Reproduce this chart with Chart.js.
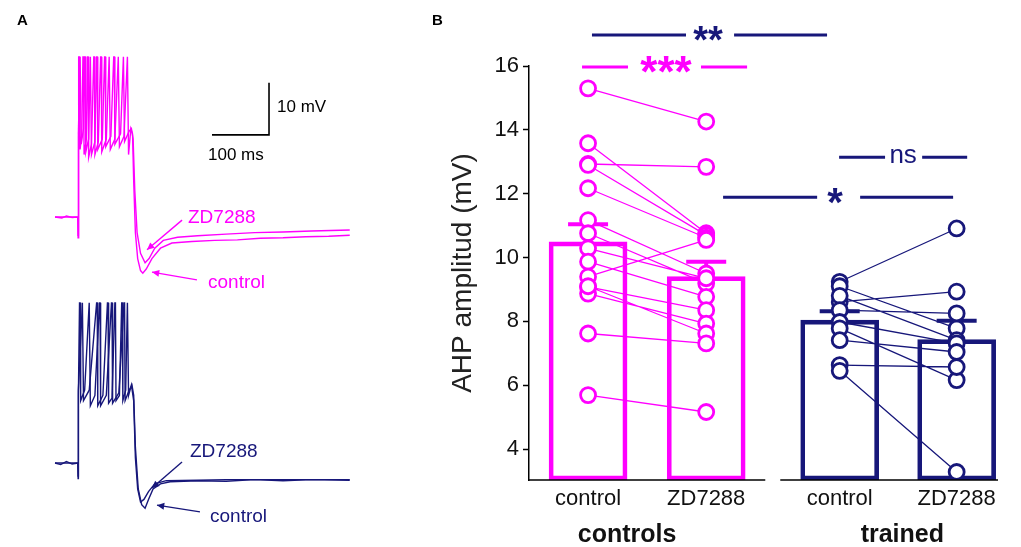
<!DOCTYPE html>
<html>
<head>
<meta charset="utf-8">
<script src="https://cdn.jsdelivr.net/npm/chart.js@4.4.1/dist/chart.umd.min.js"></script>
<style>
  html, body { margin:0; padding:0; background:#fff; }
  #wrap { position:relative; width:1021px; height:547px; overflow:hidden; background:#fff; }
  canvas { position:absolute; }
  .panel { position:absolute; font-family:'Liberation Sans', Arial, sans-serif; font-weight:bold; font-size:15px; color:#000; }
</style>
</head>
<body>
<div id="wrap">
  <canvas id="cA1" width="430" height="290" style="left:0;top:0;"></canvas>
  <canvas id="cA2" width="430" height="257" style="left:0;top:290px;"></canvas>
  <canvas id="cB" width="621" height="547" style="left:400px;top:0;"></canvas>
  <div class="panel" style="left:17px;top:11px;">A</div>
  <div class="panel" style="left:432px;top:11px;">B</div>
</div>
<script>
// ---------------- DATA ----------------
const FONT = "'Liberation Sans', Arial, sans-serif";
const MAGENTA = '#ff00ff';
const NAVY = '#17177a';

// Panel B
const categories = ['control', 'ZD7288', 'control', 'ZD7288'];
const groups = ['controls', 'trained'];
const xPos = [0.5, 1.5, 2.63, 3.62];
const barMeans = [10.49, 9.40, 8.04, 7.43];
const barSEM = [0.55, 0.47, 0.28, 0.59];
const yTicks = [4, 6, 8, 10, 12, 14, 16];
const Y_MIN = 3.03, Y_MAX = 16, X_MAX = 3.97;

const controlsCtrl = [15.30, 13.58, 12.93, 12.90, 12.17, 11.17, 10.76, 10.29, 9.87, 9.40, 9.08, 8.87, 9.10, 7.62, 5.69];
const controlsZD   = [14.26, 10.76, 12.84, 10.70, 10.62, 9.50, 9.19, 9.35, 8.77, 10.55, 8.35, 7.93, 7.62, 7.31, 5.16];
const trainedCtrl  = [9.24, 9.10, 8.61, 8.80, 8.35, 7.98, 7.78, 7.41, 6.63, 6.45];
const trainedZD    = [10.91, 7.78, 8.93, 7.41, 8.25, 7.31, 6.16, 7.04, 6.57, 3.28];

// significance brackets: [label, colour, leftStart, leftEnd, textX, rightStart, rightEnd, yValue, font]
const sigLabels = [
  ['**',  NAVY,    0.533, 1.329, 1.516, 1.736, 2.523, 16.97, 'bold 38px'],
  ['***', MAGENTA, 0.449, 0.838, 1.160, 1.456, 1.846, 15.97, 'bold 44px'],
  ['ns',  NAVY,    2.625, 3.014, 3.167, 3.328, 3.709, 13.14, '26px'],
  ['*',   NAVY,    1.643, 2.439, 2.591, 2.803, 3.590, 11.89, 'bold 40px']
];
const axisSegments = [[0, 2.0], [2.127, X_MAX]];
const groupLabelX = [0.83, 3.16];

// Panel A traces: [time ms, membrane potential mV]
const magentaCtrlTrace = [[0,-65],[12,-65.2],[20,-64.8],[30,-65.1],[40,-65],[40.5,-69],[41,-50],[42,-34.2],[43,-34.2],[44,-52],[47,-49],[49,-34.2],[50,-34.2],[51,-53],[55,-50],[57,-34.2],[58,-34.2],[59,-53.5],[64,-51],[68,-34.2],[69,-34.2],[70,-53],[76,-50.5],[80,-34.2],[81,-34.2],[82,-52.5],[90,-50],[95,-34.2],[96,-34.2],[97,-52],[105,-50],[111,-34.2],[112,-34.2],[113,-51.5],[121,-49.5],[127,-34.2],[128,-34.2],[129,-53],[133,-48],[136,-49],[138,-58],[141,-68],[145,-73],[150,-75.3],[154,-75.8],[160,-75],[170,-73],[185,-71],[205,-70],[240,-69.7],[280,-69.5],[320,-69.4],[360,-69.1],[400,-69],[440,-68.8],[480,-68.7],[517,-68.5]];
const magentaZDTrace = [[0,-65],[40,-65],[40.5,-68.5],[41,-49],[44,-34.2],[45,-34.2],[46,-51],[50,-48],[52,-34.2],[53,-34.2],[54,-52.5],[59,-50],[62,-34.2],[63,-34.2],[64,-53],[70,-50.5],[73,-34.2],[74,-34.2],[75,-52],[83,-50],[87,-34.2],[88,-34.2],[89,-51.5],[98,-49.5],[103,-34.2],[104,-34.2],[105,-51],[115,-49],[120,-34.2],[121,-34.2],[122,-50.5],[130,-48.5],[134,-48],[137,-50],[140,-60],[144,-68],[150,-72],[158,-73.8],[165,-73],[175,-71],[190,-69.5],[215,-68.9],[250,-68.6],[300,-68.3],[350,-68],[400,-67.9],[450,-67.7],[517,-67.5]];
const navyCtrlTrace = [[0,-65],[10,-65.3],[20,-64.7],[30,-65.2],[40,-65],[40.5,-68],[41,-52],[43,-34.2],[44,-34.2],[45,-53],[52,-51],[60,-34.2],[61,-34.2],[62,-54],[70,-52],[78,-34.2],[79,-34.2],[80,-54],[90,-52],[99,-34.2],[100,-34.2],[101,-53.5],[112,-51.5],[121,-34.2],[122,-34.2],[123,-53],[130,-51],[135,-50],[138,-52],[141,-62],[146,-70],[152,-73],[158,-73.7],[164,-72],[172,-70],[185,-69],[202,-68.6],[250,-68.4],[300,-68.5],[350,-68.2],[400,-68.4],[450,-68.2],[517,-68.3]];
const navyZDTrace = [[0,-65],[40,-65],[40.5,-67.5],[41,-51],[48,-34.2],[49,-34.2],[50,-53],[60,-51],[73,-34.2],[74,-34.2],[75,-54],[84,-52],[92,-34.2],[93,-34.2],[94,-53.5],[100,-52.5],[105,-34.2],[106,-34.2],[107,-53],[113,-52],[117,-34.2],[118,-34.2],[119,-53],[124,-51],[127,-34.2],[128,-34.2],[129,-52],[134,-50],[138,-53],[141,-64],[145,-70],[150,-72.5],[156,-72],[164,-70.5],[175,-69],[195,-68.4],[250,-68.3],[300,-68.2],[400,-68.2],[517,-68.2]];

// Panel A annotations (data units: ms, mV)
const topLabels = [['ZD7288', 233.3, -65.2], ['control', 268.4, -77.7]];
const topArrows = [[222.8, -65.6, 161.4, -71.3], [249.0, -77.1, 170.1, -75.6]];
const botLabels = [['ZD7288', 236.8, -62.9], ['control', 271.9, -75.4]];
const botArrows = [[222.8, -64.8, 170.1, -69.8], [254.3, -74.4, 178.9, -73.1]];
const scaleBarT = [275.4, 375.4];   // 100 ms
const scaleBarV = [-49.2, -39.2];   // 10 mV
const scaleLabels = [['10 mV', 389.4, -44.0], ['100 ms', 268.4, -53.1]];

// ---------------- PANEL A ----------------
function toXY(arr) { return arr.map(p => ({x: p[0], y: p[1]})); }

function arrow(ctx, x1, y1, x2, y2, color) {
  ctx.strokeStyle = color; ctx.fillStyle = color; ctx.lineWidth = 1.4;
  ctx.beginPath(); ctx.moveTo(x1, y1); ctx.lineTo(x2, y2); ctx.stroke();
  const a = Math.atan2(y2 - y1, x2 - x1), L = 8, W = 0.45;
  ctx.beginPath(); ctx.moveTo(x2, y2);
  ctx.lineTo(x2 - L * Math.cos(a - W), y2 - L * Math.sin(a - W));
  ctx.lineTo(x2 - L * Math.cos(a + W), y2 - L * Math.sin(a + W));
  ctx.closePath(); ctx.fill();
}

function traceChart(id, traces, colors, yMin, yMax, labels, arrows, color, withScale) {
  const annot = {
    id: 'annot' + id,
    afterDraw(chart) {
      const {ctx, scales: {x, y}} = chart;
      ctx.save();
      ctx.font = '19px ' + FONT; ctx.textBaseline = 'middle'; ctx.textAlign = 'left';
      labels.forEach(l => { ctx.fillStyle = color; ctx.fillText(l[0], x.getPixelForValue(l[1]), y.getPixelForValue(l[2])); });
      arrows.forEach(a => arrow(ctx, x.getPixelForValue(a[0]), y.getPixelForValue(a[1]), x.getPixelForValue(a[2]), y.getPixelForValue(a[3]), color));
      if (withScale) {
        ctx.strokeStyle = '#000'; ctx.lineWidth = 1.6;
        const xa = x.getPixelForValue(scaleBarT[0]), xb = x.getPixelForValue(scaleBarT[1]);
        const ya = y.getPixelForValue(scaleBarV[0]), yb = y.getPixelForValue(scaleBarV[1]);
        ctx.beginPath(); ctx.moveTo(xa, ya); ctx.lineTo(xb, ya); ctx.lineTo(xb, yb); ctx.stroke();
        ctx.fillStyle = '#000'; ctx.font = '17px ' + FONT;
        scaleLabels.forEach(l => ctx.fillText(l[0], x.getPixelForValue(l[1]), y.getPixelForValue(l[2])));
      }
      ctx.restore();
    }
  };
  return new Chart(document.getElementById(id), {
    type: 'line',
    data: { datasets: traces.map((t, i) => ({ data: toXY(t), borderColor: colors[i], borderWidth: 1.4, pointRadius: 0, tension: 0, fill: false })) },
    options: {
      responsive: false, animation: false, devicePixelRatio: 1,
      layout: { padding: 0 },
      scales: {
        x: { type: 'linear', display: false, min: -96.5, max: 657.8 },
        y: { type: 'linear', display: false, min: yMin, max: yMax }
      },
      plugins: { legend: { display: false }, tooltip: { enabled: false } }
    },
    plugins: [annot]
  });
}

traceChart('cA1', [magentaZDTrace, magentaCtrlTrace], [MAGENTA, MAGENTA], -79.04, -23.27, topLabels, topArrows, MAGENTA, true);
traceChart('cA2', [navyZDTrace, navyCtrlTrace], [NAVY, NAVY], -81.15, -31.73, botLabels, botArrows, NAVY, false);

// ---------------- PANEL B ----------------
function pairLine(a, b, xa, xb) {
  const d = [];
  a.forEach((v, i) => { d.push({x: xa, y: v}, {x: xb, y: b[i]}, {x: xb, y: null}); });
  return d;
}
function pts(a, b, xa, xb) {
  return a.map(v => ({x: xa, y: v})).concat(b.map(v => ({x: xb, y: v})));
}
const barColors = [MAGENTA, MAGENTA, NAVY, NAVY];

const plotB = {
  id: 'plotB',
  afterDatasetDraw(chart, args) {
    if (args.index !== 0) return;
    const {ctx, scales: {x, y}} = chart;
    ctx.save();
    ctx.lineWidth = 4; ctx.lineCap = 'butt';
    xPos.forEach((xv, i) => {
      const cx = x.getPixelForValue(xv);
      const top = y.getPixelForValue(barMeans[i]);
      const cap = y.getPixelForValue(barMeans[i] + barSEM[i]);
      ctx.strokeStyle = barColors[i];
      ctx.beginPath(); ctx.moveTo(cx, top); ctx.lineTo(cx, cap); ctx.stroke();
      ctx.beginPath(); ctx.moveTo(cx - 20, cap); ctx.lineTo(cx + 20, cap); ctx.stroke();
    });
    ctx.restore();
  },
  afterDraw(chart) {
    const {ctx, scales: {x, y}} = chart;
    ctx.save();
    // broken x axis
    ctx.strokeStyle = '#000'; ctx.lineWidth = 1.5;
    const yb = y.getPixelForValue(Y_MIN);
    axisSegments.forEach(s => {
      ctx.beginPath(); ctx.moveTo(x.getPixelForValue(s[0]), yb); ctx.lineTo(x.getPixelForValue(s[1]), yb); ctx.stroke();
    });
    // category labels
    ctx.fillStyle = '#111'; ctx.textAlign = 'center'; ctx.textBaseline = 'middle';
    ctx.font = '22px ' + FONT;
    categories.forEach((c, i) => ctx.fillText(c, x.getPixelForValue(xPos[i]), yb + 19));
    ctx.font = 'bold 25px ' + FONT;
    groups.forEach((g, i) => ctx.fillText(g, x.getPixelForValue(groupLabelX[i]), yb + 55));
    // y title
    ctx.save();
    ctx.translate(63, (y.top + y.bottom) / 2);
    ctx.rotate(-Math.PI / 2);
    ctx.font = '28px ' + FONT; ctx.fillStyle = '#222';
    ctx.fillText('AHP amplitud (mV)', 0, 0);
    ctx.restore();
    // significance
    sigLabels.forEach(s => {
      const [lab, col, l1, l2, tx, r1, r2, yv, f] = s;
      const py = y.getPixelForValue(yv);
      ctx.strokeStyle = col; ctx.fillStyle = col; ctx.lineWidth = 3;
      ctx.beginPath();
      ctx.moveTo(x.getPixelForValue(l1), py); ctx.lineTo(x.getPixelForValue(l2), py);
      ctx.moveTo(x.getPixelForValue(r1), py); ctx.lineTo(x.getPixelForValue(r2), py);
      ctx.stroke();
      ctx.font = f + ' ' + FONT;
      ctx.textAlign = 'center';
      ctx.textBaseline = 'alphabetic';
      if (lab === 'ns') { ctx.fillText(lab, x.getPixelForValue(tx), py + 6); }
      else { const fs = parseFloat(f.split(' ')[1]); ctx.fillText(lab, x.getPixelForValue(tx), py + 0.46 * fs); }
    });
    ctx.restore();
  }
};

new Chart(document.getElementById('cB'), {
  type: 'bar',
  data: {
    datasets: [
      {
        type: 'bar', order: 5,
        data: xPos.map((xv, i) => ({x: xv, y: [Y_MIN, barMeans[i]]})),
        backgroundColor: 'rgba(255,255,255,0)', borderColor: barColors, borderWidth: 4,
        borderSkipped: false, barThickness: 78
      },
      { type: 'line', order: 4, data: pairLine(controlsCtrl, controlsZD, xPos[0], xPos[1]), borderColor: MAGENTA, borderWidth: 1.3, pointRadius: 0, spanGaps: false },
      { type: 'line', order: 3, data: pairLine(trainedCtrl, trainedZD, xPos[2], xPos[3]), borderColor: NAVY, borderWidth: 1.3, pointRadius: 0, spanGaps: false },
      { type: 'line', order: 2, data: pts(controlsCtrl, controlsZD, xPos[0], xPos[1]), showLine: false, pointRadius: 7.5, pointBorderWidth: 2.8, pointBorderColor: MAGENTA, pointBackgroundColor: '#fff' },
      { type: 'line', order: 1, data: pts(trainedCtrl, trainedZD, xPos[2], xPos[3]), showLine: false, pointRadius: 7.5, pointBorderWidth: 2.8, pointBorderColor: NAVY, pointBackgroundColor: '#fff' }
    ]
  },
  options: {
    responsive: false, animation: false, devicePixelRatio: 1,
    layout: { padding: { top: 66, bottom: 67, left: 0, right: 23 } },
    scales: {
      x: { type: 'linear', min: 0, max: X_MAX, display: false, offset: false },
      y: {
        type: 'linear', min: Y_MIN, max: Y_MAX,
        afterBuildTicks: s => { s.ticks = yTicks.map(v => ({value: v})); },
        afterFit: s => { s.width = 129; },
        ticks: { font: { family: FONT, size: 22 }, color: '#111', padding: 4 },
        grid: { drawOnChartArea: false, drawTicks: true, tickLength: 6, tickColor: '#000', tickWidth: 1.5 },
        border: { display: true, color: '#000', width: 1.5 }
      }
    },
    plugins: { legend: { display: false }, tooltip: { enabled: false } }
  },
  plugins: [plotB]
});
</script>
</body>
</html>
